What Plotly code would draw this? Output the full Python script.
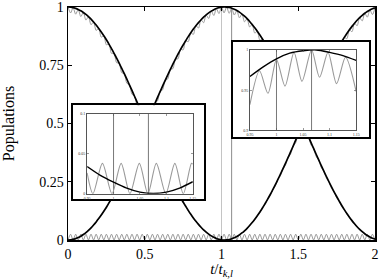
import plotly.graph_objects as go

# ---------------- data ----------------
t_grid = [
    0.0, 0.0167, 0.0333, 0.05, 0.0667, 0.0833,
    0.1, 0.1167, 0.1333, 0.15, 0.1667, 0.1833,
    0.2, 0.2167, 0.2333, 0.25, 0.2667, 0.2833,
    0.3, 0.3167, 0.3333, 0.35, 0.3667, 0.3833,
    0.4, 0.4167, 0.4333, 0.45, 0.4667, 0.4833,
    0.5, 0.5167, 0.5333, 0.55, 0.5667, 0.5833,
    0.6, 0.6167, 0.6333, 0.65, 0.6667, 0.6833,
    0.7, 0.7167, 0.7333, 0.75, 0.7667, 0.7833,
    0.8, 0.8167, 0.8333, 0.85, 0.8667, 0.8833,
    0.9, 0.9167, 0.9333, 0.95, 0.9667, 0.9833,
    1.0, 1.0167, 1.0333, 1.05, 1.0667, 1.0833,
    1.1, 1.1167, 1.1333, 1.15, 1.1667, 1.1833,
    1.2, 1.2167, 1.2333, 1.25, 1.2667, 1.2833,
    1.3, 1.3167, 1.3333, 1.35, 1.3667, 1.3833,
    1.4, 1.4167, 1.4333, 1.45, 1.4667, 1.4833,
    1.5, 1.5167, 1.5333, 1.55, 1.5667, 1.5833,
    1.6, 1.6167, 1.6333, 1.65, 1.6667, 1.6833,
    1.7, 1.7167, 1.7333, 1.75, 1.7667, 1.7833,
    1.8, 1.8167, 1.8333, 1.85, 1.8667, 1.8833,
    1.9, 1.9167, 1.9333, 1.95, 1.9667, 1.9833,
    2.0,
]

black_A = [
    1.0000, 0.9993, 0.9974, 0.9941, 0.9895, 0.9836, 0.9765, 0.9681, 0.9584, 0.9476,
    0.9356, 0.9224, 0.9081, 0.8928, 0.8765, 0.8592, 0.8409, 0.8214, 0.8013, 0.7805,
    0.7589, 0.7365, 0.7137, 0.6902, 0.6662, 0.6418, 0.6170, 0.5919, 0.5665, 0.5410,
    0.5154, 0.4897, 0.4641, 0.4385, 0.4132, 0.3880, 0.3632, 0.3387, 0.3146, 0.2910,
    0.2681, 0.2456, 0.2237, 0.2025, 0.1821, 0.1630, 0.1448, 0.1271, 0.1104, 0.0949,
    0.0804, 0.0670, 0.0548, 0.0436, 0.0338, 0.0251, 0.0177, 0.0116, 0.0067, 0.0032,
    0.0010, 0.0000, 0.0004, 0.0021, 0.0052, 0.0095, 0.0151, 0.0220, 0.0302, 0.0396,
    0.0502, 0.0620, 0.0749, 0.0890, 0.1041, 0.1203, 0.1374, 0.1555, 0.1745, 0.1943,
    0.2149, 0.2363, 0.2589, 0.2817, 0.3051, 0.3290, 0.3534, 0.3780, 0.4031, 0.4284,
    0.4539, 0.4795, 0.5051, 0.5308, 0.5563, 0.5818, 0.6070, 0.6319, 0.6565, 0.6806,
    0.7043, 0.7275, 0.7500, 0.7719, 0.7930, 0.8134, 0.8329, 0.8517, 0.8695, 0.8862,
    0.9021, 0.9168, 0.9304, 0.9430, 0.9542, 0.9644, 0.9733, 0.9809, 0.9873, 0.9924,
    0.9962,
]

black_B = [
    0.0000, 0.0007, 0.0026, 0.0059, 0.0105, 0.0164, 0.0235, 0.0319, 0.0416, 0.0524,
    0.0644, 0.0776, 0.0919, 0.1072, 0.1235, 0.1408, 0.1591, 0.1786, 0.1987, 0.2195,
    0.2411, 0.2635, 0.2863, 0.3098, 0.3338, 0.3582, 0.3830, 0.4081, 0.4335, 0.4590,
    0.4846, 0.5103, 0.5359, 0.5615, 0.5868, 0.6120, 0.6368, 0.6613, 0.6854, 0.7090,
    0.7319, 0.7544, 0.7763, 0.7975, 0.8179, 0.8370, 0.8552, 0.8729, 0.8896, 0.9051,
    0.9196, 0.9330, 0.9452, 0.9564, 0.9662, 0.9749, 0.9823, 0.9884, 0.9933, 0.9968,
    0.9990, 1.0000, 0.9996, 0.9979, 0.9948, 0.9905, 0.9849, 0.9780, 0.9698, 0.9604,
    0.9498, 0.9380, 0.9251, 0.9110, 0.8959, 0.8797, 0.8626, 0.8445, 0.8255, 0.8057,
    0.7851, 0.7637, 0.7411, 0.7183, 0.6949, 0.6710, 0.6466, 0.6220, 0.5969, 0.5716,
    0.5461, 0.5205, 0.4949, 0.4692, 0.4437, 0.4182, 0.3930, 0.3681, 0.3435, 0.3194,
    0.2957, 0.2725, 0.2500, 0.2281, 0.2070, 0.1866, 0.1671, 0.1483, 0.1305, 0.1138,
    0.0979, 0.0832, 0.0696, 0.0570, 0.0458, 0.0356, 0.0267, 0.0191, 0.0127, 0.0076,
    0.0038,
]

gray_A = [
    1.0000, 0.9743, 0.9974, 0.9692, 0.9895, 0.9590, 0.9765, 0.9439, 0.9584, 0.9239,
    0.9356, 0.8993, 0.9081, 0.8705, 0.8765, 0.8377, 0.8409, 0.8009, 0.8013, 0.7610,
    0.7589, 0.7181, 0.7137, 0.6729, 0.6662, 0.6258, 0.6170, 0.5771, 0.5665, 0.5275,
    0.5154, 0.4775, 0.4641, 0.4275, 0.4132, 0.3783, 0.3632, 0.3302, 0.3146, 0.2837,
    0.2681, 0.2395, 0.2237, 0.1974, 0.1821, 0.1589, 0.1448, 0.1239, 0.1104, 0.0925,
    0.0804, 0.0653, 0.0548, 0.0425, 0.0338, 0.0245, 0.0177, 0.0113, 0.0067, 0.0031,
    0.0010, 0.0000, 0.0004, 0.0020, 0.0052, 0.0093, 0.0151, 0.0215, 0.0302, 0.0386,
    0.0502, 0.0605, 0.0749, 0.0868, 0.1041, 0.1173, 0.1374, 0.1516, 0.1745, 0.1894,
    0.2149, 0.2304, 0.2589, 0.2747, 0.3051, 0.3208, 0.3534, 0.3686, 0.4031, 0.4177,
    0.4539, 0.4675, 0.5051, 0.5175, 0.5563, 0.5673, 0.6070, 0.6161, 0.6565, 0.6636,
    0.7043, 0.7093, 0.7500, 0.7526, 0.7930, 0.7931, 0.8329, 0.8304, 0.8695, 0.8640,
    0.9021, 0.8939, 0.9304, 0.9194, 0.9542, 0.9403, 0.9733, 0.9564, 0.9873, 0.9676,
    0.9962,
]

gray_B = [
    0.0000, 0.0007, 0.0026, 0.0058, 0.0105, 0.0160, 0.0235, 0.0311, 0.0416, 0.0511,
    0.0644, 0.0757, 0.0919, 0.1045, 0.1235, 0.1373, 0.1591, 0.1741, 0.1987, 0.2140,
    0.2411, 0.2569, 0.2863, 0.3021, 0.3338, 0.3492, 0.3830, 0.3979, 0.4335, 0.4475,
    0.4846, 0.4975, 0.5359, 0.5475, 0.5868, 0.5967, 0.6368, 0.6448, 0.6854, 0.6913,
    0.7319, 0.7355, 0.7763, 0.7776, 0.8179, 0.8161, 0.8552, 0.8511, 0.8896, 0.8825,
    0.9196, 0.9097, 0.9452, 0.9325, 0.9662, 0.9505, 0.9823, 0.9637, 0.9933, 0.9719,
    0.9990, 0.9750, 0.9996, 0.9730, 0.9948, 0.9657, 0.9849, 0.9536, 0.9698, 0.9364,
    0.9498, 0.9146, 0.9251, 0.8882, 0.8959, 0.8577, 0.8626, 0.8234, 0.8255, 0.7856,
    0.7851, 0.7446, 0.7411, 0.7003, 0.6949, 0.6542, 0.6466, 0.6065, 0.5969, 0.5573,
    0.5461, 0.5075, 0.4949, 0.4575, 0.4437, 0.4077, 0.3930, 0.3589, 0.3435, 0.3114,
    0.2957, 0.2657, 0.2500, 0.2224, 0.2070, 0.1819, 0.1671, 0.1446, 0.1305, 0.1110,
    0.0979, 0.0811, 0.0696, 0.0556, 0.0458, 0.0347, 0.0267, 0.0186, 0.0127, 0.0074,
    0.0038,
]

gray_leak = [
    0, 0.025, 0, 0.025, 0, 0.025, 0, 0.025, 0, 0.025,
    0, 0.025, 0, 0.025, 0, 0.025, 0, 0.025, 0, 0.025,
    0, 0.025, 0, 0.025, 0, 0.025, 0, 0.025, 0, 0.025,
    0, 0.025, 0, 0.025, 0, 0.025, 0, 0.025, 0, 0.025,
    0, 0.025, 0, 0.025, 0, 0.025, 0, 0.025, 0, 0.025,
    0, 0.025, 0, 0.025, 0, 0.025, 0, 0.025, 0, 0.025,
    0, 0.025, 0, 0.025, 0, 0.025, 0, 0.025, 0, 0.025,
    0, 0.025, 0, 0.025, 0, 0.025, 0, 0.025, 0, 0.025,
    0, 0.025, 0, 0.025, 0, 0.025, 0, 0.025, 0, 0.025,
    0, 0.025, 0, 0.025, 0, 0.025, 0, 0.025, 0, 0.025,
    0, 0.025, 0, 0.025, 0, 0.025, 0, 0.025, 0, 0.025,
    0, 0.025, 0, 0.025, 0, 0.025, 0, 0.025, 0, 0.025,
    0,
]

marker_times = [1.0, 1.066]

main_x_ticks = [0, 0.5, 1, 1.5, 2]
main_x_labels = ["0", "0.5", "1", "1.5", "2"]
main_y_ticks = [0, 0.25, 0.5, 0.75, 1]
main_y_labels = ["0", "0.25", "0.5", "0.75", "1"]

inset_x_range = [0.95, 1.15]
inset_x_ticks = [0.95, 1.0, 1.05, 1.1, 1.15]
inset_x_labels = ["0.95", "1", "1.05", "1.1", "1.15"]

# lower-left inset (population near its minimum)
lo_y_range = [0.0, 0.1]
lo_y_ticks = [0.0, 0.05, 0.1]
lo_y_labels = ["0", "0.05", "0.1"]
lo_black_t = [0.95, 0.975, 1.0, 1.025, 1.05, 1.075, 1.1, 1.125, 1.15]
lo_black_y = [0.034, 0.023, 0.0145, 0.007, 0.002, 0.0003, 0.002, 0.007, 0.015]
lo_gray_t = [0.95, 0.961, 0.979, 0.997, 1.0144, 1.031, 1.0488, 1.065,
             1.081, 1.099, 1.116, 1.132, 1.1475, 1.15]
lo_gray_y = [0.026, 0.0, 0.038, 0.0, 0.038, 0.0, 0.038, 0.0,
             0.038, 0.0, 0.038, 0.0, 0.038, 0.037]

# upper-right inset (population near its maximum)
hi_y_range = [0.9, 1.0]
hi_y_ticks = [0.9, 0.95, 1.0]
hi_y_labels = ["0.9", "0.95", "1"]
hi_black_t = [0.95, 0.975, 1.0, 1.025, 1.05, 1.075, 1.1, 1.125, 1.15]
hi_black_y = [0.967, 0.979, 0.989, 0.996, 0.999, 1.0, 0.997, 0.993, 0.987]
hi_gray_t = [0.95, 0.968, 0.984, 1.0, 1.016, 1.033, 1.048, 1.066,
             1.081, 1.097, 1.113, 1.13, 1.15]
hi_gray_y = [0.932, 0.974, 0.946, 0.988, 0.955, 0.997, 0.961, 1.0,
             0.966, 0.997, 0.958, 0.991, 0.948]

# ---------------- styles ----------------
GRAY = "#9a9a9a"
BLACK = "#000000"
SERIF = "Liberation Serif, DejaVu Serif, serif"

fig = go.Figure()

def line_trace(x, y, color, width, xa, ya):
    return go.Scatter(x=x, y=y, mode="lines", xaxis=xa, yaxis=ya,
                      line=dict(color=color, width=width, shape="spline", smoothing=0.8),
                      showlegend=False, hoverinfo="skip")

# main plot
fig.add_trace(line_trace(t_grid, gray_leak, GRAY, 1, "x", "y"))
fig.add_trace(line_trace(t_grid, gray_A, GRAY, 1, "x", "y"))
fig.add_trace(line_trace(t_grid, gray_B, GRAY, 1, "x", "y"))
fig.add_trace(line_trace(t_grid, black_A, BLACK, 1.7, "x", "y"))
fig.add_trace(line_trace(t_grid, black_B, BLACK, 1.7, "x", "y"))

# inset 1 frame (x2/y2) and plot (x3/y3)
fig.add_trace(go.Scatter(x=[], y=[], xaxis="x2", yaxis="y2", showlegend=False))
fig.add_trace(line_trace(lo_gray_t, lo_gray_y, GRAY, 1.1, "x3", "y3"))
fig.add_trace(line_trace(lo_black_t, lo_black_y, BLACK, 1.4, "x3", "y3"))

# inset 2 frame (x4/y4) and plot (x5/y5)
fig.add_trace(go.Scatter(x=[], y=[], xaxis="x4", yaxis="y4", showlegend=False))
fig.add_trace(line_trace(hi_gray_t, hi_gray_y, GRAY, 1.1, "x5", "y5"))
fig.add_trace(line_trace(hi_black_t, hi_black_y, BLACK, 1.4, "x5", "y5"))

# vertical marker lines
shapes = []
for v, c in zip(marker_times, ["#c4c4c4", "#8c8c8c"]):
    shapes.append(dict(type="line", xref="x", yref="y", x0=v, x1=v,
                       y0=main_y_ticks[0], y1=main_y_ticks[-1],
                       line=dict(color=c, width=1), layer="below"))
for v in marker_times:
    shapes.append(dict(type="line", xref="x3", yref="y3", x0=v, x1=v,
                       y0=lo_y_range[0], y1=lo_y_range[1],
                       line=dict(color="#555555", width=0.8), layer="below"))
    shapes.append(dict(type="line", xref="x5", yref="y5", x0=v, x1=v,
                       y0=hi_y_range[0], y1=hi_y_range[1],
                       line=dict(color="#555555", width=0.8), layer="below"))

main_axis = dict(showline=True, mirror="ticks", linecolor=BLACK, linewidth=1.5,
                 ticks="inside", ticklen=4, tickwidth=1, tickcolor=BLACK,
                 showgrid=False, zeroline=False, ticklabeloverflow="allow",
                 automargin=False,
                 tickfont=dict(family=SERIF, size=14, color=BLACK))
frame_axis = dict(showline=True, mirror=True, linecolor=BLACK, linewidth=2,
                  showticklabels=False, ticks="", showgrid=False, zeroline=False,
                  range=[0, 1], fixedrange=True)
inset_axis = dict(showline=True, mirror="ticks", linecolor="#555555", linewidth=1,
                  ticks="inside", ticklen=2, tickwidth=0.6, tickcolor="#555555",
                  showgrid=False, zeroline=False,
                  tickfont=dict(family=SERIF, size=4, color="#333333"))

fig.update_layout(
    width=382, height=279,
    margin=dict(l=68, r=4, t=5, b=39),
    paper_bgcolor="white", plot_bgcolor="white",
    shapes=shapes,
    xaxis=dict(main_axis, domain=[0, 1], range=[0, 2],
               tickvals=main_x_ticks, ticktext=main_x_labels, ticklabelstandoff=1,
               title=dict(text="<i>t</i>/<i>t</i><sub><i>k,l</i></sub>",
                          font=dict(family=SERIF, size=15, color=BLACK), standoff=7)),
    yaxis=dict(main_axis, domain=[0, 1], range=[0, 1],
               tickvals=main_y_ticks, ticktext=main_y_labels,
               title=dict(text="Populations",
                          font=dict(family=SERIF, size=16, color=BLACK), standoff=20)),
    xaxis2=dict(frame_axis, domain=[0.015, 0.442], anchor="y2"),
    yaxis2=dict(frame_axis, domain=[0.1745, 0.5787], anchor="x2"),
    xaxis3=dict(inset_axis, domain=[0.0623, 0.4065], anchor="y3", range=inset_x_range,
                tickvals=inset_x_ticks, ticktext=inset_x_labels),
    yaxis3=dict(inset_axis, domain=[0.1987, 0.5417], anchor="x3", range=lo_y_range,
                tickvals=lo_y_ticks, ticktext=lo_y_labels),
    xaxis4=dict(frame_axis, domain=[0.5387, 0.9806], anchor="y4"),
    yaxis4=dict(frame_axis, domain=[0.4404, 0.851], anchor="x4"),
    xaxis5=dict(inset_axis, domain=[0.5926, 0.9387], anchor="y5", range=inset_x_range,
                tickvals=inset_x_ticks, ticktext=inset_x_labels),
    yaxis5=dict(inset_axis, domain=[0.471, 0.8157], anchor="x5", range=hi_y_range,
                tickvals=hi_y_ticks, ticktext=hi_y_labels),
)

fig.write_html("out.html",
               config={"displayModeBar": False, "staticPlot": True},
               post_script="document.body.style.margin='0px';document.body.style.overflow='hidden';")
